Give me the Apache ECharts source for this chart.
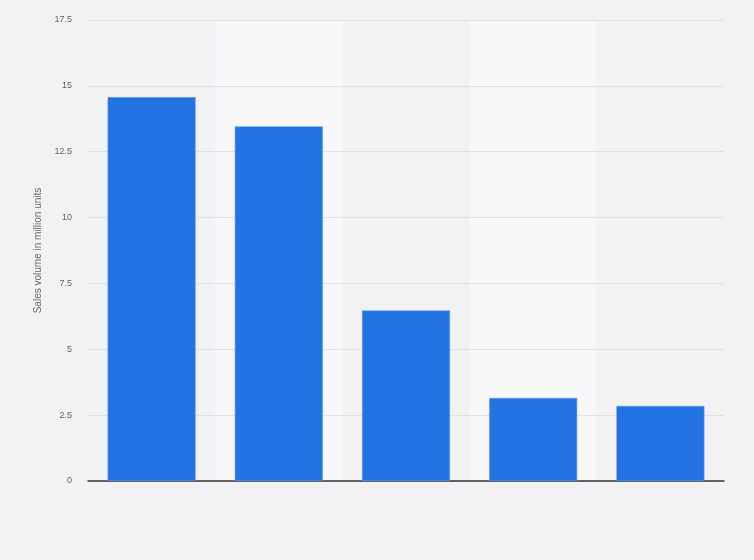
<!DOCTYPE html>
<html>
<head>
<meta charset="utf-8">
<script src="https://cdn.jsdelivr.net/npm/echarts@6/dist/echarts.min.js"></script>
<style>
html,body{margin:0;padding:0;background:#f2f1f4;}
#chart{width:754px;height:560px;}
</style>
</head>
<body>
<div id="chart"></div>
<script>
var categories = ["1", "2", "3", "4", "5"];
var salesVolume = [14.57, 13.46, 6.47, 3.15, 2.85];
var yTicks = [0, 2.5, 5, 7.5, 10, 12.5, 15, 17.5];
var yAxisTitle = "Sales volume in million units";

var chart = echarts.init(document.getElementById('chart'), null, {renderer: 'canvas'});
chart.setOption({
  backgroundColor: '#f2f1f4',
  animation: false,
  grid: {left: 88, right: 30, top: 20, bottom: 79, containLabel: false},
  xAxis: {
    type: 'category',
    z: 0,
    data: categories,
    axisLine: {show: true, lineStyle: {color: '#333', width: 1.5}},
    axisTick: {show: false},
    axisLabel: {show: false},
    splitArea: {show: true, areaStyle: {color: ['rgba(0,0,0,0)', '#f8f7fa']}},
    splitLine: {show: false}
  },
  yAxis: {
    type: 'value',
    z: 1,
    min: yTicks[0],
    max: yTicks[yTicks.length - 1],
    interval: 2.5,
    name: yAxisTitle,
    nameLocation: 'middle',
    nameRotate: 90,
    nameGap: 41,
    nameTextStyle: {color: '#6b6b6b', fontSize: 10, fontFamily: 'Arial, Liberation Sans, sans-serif'},
    axisLine: {show: false},
    axisTick: {show: false},
    axisLabel: {
      color: '#666', fontSize: 9, margin: 16,
      fontFamily: 'Arial, Liberation Sans, sans-serif',
      formatter: function (v) { return yTicks.indexOf(v) >= 0 ? String(v) : ''; }
    },
    splitLine: {show: true, showMinLine: false, lineStyle: {color: '#cfcfd4', type: [1, 1], width: 1}}
  },
  series: [{
    type: 'bar',
    z: 2,
    data: salesVolume,
    barWidth: 88,
    itemStyle: {color: '#2173e2', borderColor: '#5a9bf0', borderWidth: 0.6}
  }]
});
</script>
</body>
</html>
